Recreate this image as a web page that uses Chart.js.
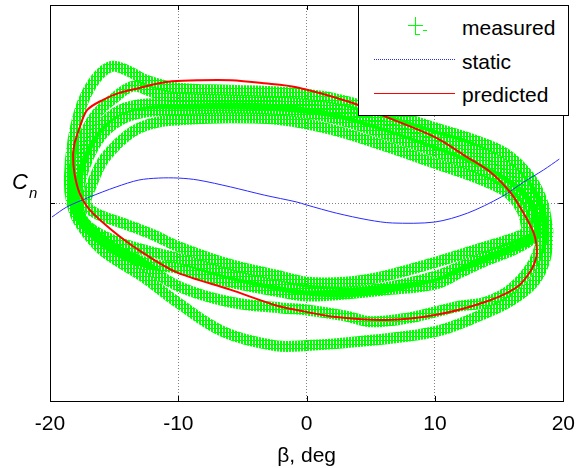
<!DOCTYPE html>
<html><head><meta charset="utf-8">
<script src="https://cdn.jsdelivr.net/npm/chart.js@4.4.1/dist/chart.umd.min.js"></script>
<style>
html,body{margin:0;padding:0;background:#fff;}
#wrap{position:relative;width:586px;height:468px;}
#leg{position:absolute;left:358px;top:5px;width:209px;height:109px;border:1px solid #000;background:#fff;font-family:'Liberation Sans',Arial,sans-serif;font-size:21px;color:#000;}
#leg .t{position:absolute;left:103px;line-height:24px;white-space:nowrap;}
#leg .k{position:absolute;}
</style>
</head><body><div id="wrap"><canvas id="c" width="586" height="468"></canvas><div id="leg"></div></div>
<script>
const xTicks = [-20, -10, 0, 10, 20];
const yTicks = [-1, 0, 1];
const xTitle = 'β, deg';
const seriesNames = ['measured', 'static', 'predicted'];

const staticBeta = [-19.85,-18.69,-16.92,-14.85,-13.08,-11.54,-10.0,-8.46,-5.92,-3.31,-0.77,0.0,2.31,4.85,6.69,10.0,12.54,15.15,16.92,18.46,19.69];
const staticCn   = [-0.071,-0.020,0.030,0.081,0.116,0.126,0.126,0.116,0.081,0.040,0.005,-0.010,-0.051,-0.086,-0.101,-0.096,-0.051,0.030,0.106,0.167,0.222];

const predBeta = [-18.1,-17.7,-17.1,-15.9,-14.6,-13.1,-11.5,-10.5,-8.5,-5.9,-3.3,-0.8,3.6,6.2,10.0,12.5,14.4,15.9,16.9,17.7,17.9,17.9,17.5,16.4,13.9,10.0,6.2,2.3,-0.8,-2.5,-5.9,-10.2,-13.1,-15.2,-16.9,-17.7,-18.1,-18.2,-18.1];
const predCn   = [0.30,0.38,0.47,0.52,0.556,0.58,0.605,0.615,0.62,0.62,0.605,0.585,0.505,0.435,0.333,0.232,0.152,0.051,-0.051,-0.152,-0.212,-0.273,-0.338,-0.424,-0.50,-0.566,-0.591,-0.576,-0.54,-0.515,-0.439,-0.348,-0.237,-0.136,-0.035,0.051,0.152,0.242,0.30];

const meas1Beta = [18.8,18.4,17.4,15.5,13.0,10.0,6.0,2.0,-2.0,-6.0,-10.0,-12.5,-14.0,-15.2,-16.4,-17.5,-18.2,-18.5,-18.3,-17.7,-15.9,-12.8,-10.0,-6.5,-2.5,0.0,4.0,10.0,13.8,16.0,17.7,18.6,18.8];
const meas1Cn   = [-0.14,0.00,0.13,0.25,0.32,0.38,0.46,0.53,0.56,0.57,0.58,0.62,0.67,0.69,0.63,0.50,0.32,0.12,0.00,-0.10,-0.24,-0.37,-0.505,-0.65,-0.72,-0.72,-0.70,-0.65,-0.56,-0.49,-0.40,-0.28,-0.14];

const meas2Beta = [18.5,18.1,17.0,15.0,12.5,10.0,6.0,2.0,-2.0,-6.0,-10.0,-12.0,-13.5,-15.0,-16.5,-17.6,-18.2,-18.1,-17.3,-15.5,-13.0,-10.0,-6.0,-2.0,0.0,3.0,5.0,8.0,10.0,12.0,14.0,16.0,17.6,18.5];
const meas2Cn   = [-0.16,-0.02,0.10,0.21,0.29,0.34,0.42,0.48,0.51,0.52,0.53,0.56,0.59,0.53,0.44,0.30,0.14,0.00,-0.10,-0.20,-0.30,-0.42,-0.50,-0.53,-0.54,-0.57,-0.60,-0.58,-0.55,-0.52,-0.50,-0.43,-0.31,-0.16];

const meas3Beta = [17.9,17.5,16.4,14.5,12.0,10.0,6.0,2.0,-2.0,-6.0,-10.0,-12.5,-14.5,-16.0,-17.2,-17.8,-17.7,-16.8,-14.5,-12.0,-10.0,-6.0,-2.0,0.0,3.0,6.0,10.0,12.0,14.0,16.0,17.4,17.9];
const meas3Cn   = [-0.15,-0.03,0.06,0.14,0.21,0.26,0.35,0.43,0.47,0.48,0.47,0.46,0.42,0.34,0.20,0.05,-0.05,-0.14,-0.25,-0.31,-0.33,-0.40,-0.45,-0.47,-0.46,-0.44,-0.41,-0.35,-0.29,-0.24,-0.19,-0.15];

const meas4Beta = [17.2,16.8,15.7,13.5,10.0,6.0,2.0,-2.0,-6.0,-10.0,-11.5,-13.0,-14.2,-15.3,-16.0,-16.7,-17.2,-16.5,-14.0,-12.0,-10.0,-6.0,-2.0,0.0,3.0,6.0,10.0,12.0,14.0,15.5,16.8,17.2];
const meas4Cn   = [-0.14,-0.04,0.05,0.12,0.20,0.29,0.37,0.42,0.43,0.42,0.41,0.38,0.33,0.26,0.20,0.10,0.00,-0.05,-0.11,-0.16,-0.22,-0.31,-0.37,-0.40,-0.40,-0.37,-0.30,-0.26,-0.22,-0.19,-0.16,-0.14];

const meas5Beta = [18.2,17.8,16.7,14.5,12.0,10.0,6.0,2.0,-2.0,-6.0,-10.0,-12.5,-14.5,-16.2,-17.4,-18.0,-17.9,-17.0,-15.0,-12.5,-10.0,-6.0,-2.0,0.0,3.0,6.0,10.0,12.0,14.0,16.0,17.5,18.2];
const meas5Cn   = [-0.15,-0.02,0.08,0.18,0.25,0.30,0.39,0.46,0.49,0.50,0.50,0.50,0.47,0.38,0.24,0.08,-0.04,-0.12,-0.19,-0.24,-0.28,-0.36,-0.42,-0.44,-0.45,-0.43,-0.37,-0.32,-0.27,-0.22,-0.18,-0.15];

const measuredBeta = [meas1Beta, meas2Beta, meas3Beta, meas4Beta, meas5Beta];
const measuredCn = [meas1Cn, meas2Cn, meas3Cn, meas4Cn, meas5Cn];

const FONT = "'Liberation Sans', Arial, sans-serif";
const GREEN = '#00ff00';
const BLUE = '#2a2aff';
const RED = '#ff0000';
const canvas = document.getElementById('c');
const ctx = canvas.getContext('2d');

function toXY(b, c) { return b.map((v, i) => ({ x: v, y: c[i] })); }
function makePattern(k) {
  const p = document.createElement('canvas');
  p.width = 3; p.height = 4;
  const g = p.getContext('2d');
  g.fillStyle = GREEN;
  for (let i = 0; i < 3; i++) { if (i !== (k % 3)) g.fillRect(i, 0, 1, 4); }
  g.fillRect(0, k % 4, 3, 1);
  return ctx.createPattern(p, 'repeat');
}

const datasets = [
  { label: seriesNames[2], data: toXY(predBeta, predCn), showLine: true, borderColor: RED, borderWidth: 2, pointRadius: 0, tension: 0.3, fill: false },
  { label: seriesNames[1], data: toXY(staticBeta, staticCn), showLine: true, borderColor: BLUE, borderWidth: 1, pointRadius: 0, tension: 0.3, fill: false }
];
measuredBeta.forEach((b, k) => {
  datasets.push({ label: seriesNames[0], data: toXY(b, measuredCn[k]), showLine: true, borderColor: makePattern(k), borderWidth: 11, borderJoinStyle: 'round', borderCapStyle: 'round', pointRadius: 0, tension: 0.35, fill: false });
});

// HTML legend (inside the plot area, top right)
(function buildLegend() {
  const leg = document.getElementById('leg');
  const add = (cls, css, txt) => { const d = document.createElement('div'); d.className = cls; d.style.cssText = css; if (txt) d.textContent = txt; leg.appendChild(d); };
  add('k', 'left:56px;top:11px;width:1px;height:18px;background:' + GREEN);
  add('k', 'left:49px;top:19px;width:15px;height:1px;background:' + GREEN);
  add('k', 'left:56px;top:28px;width:5px;height:1px;background:' + GREEN);
  add('k', 'left:64px;top:24px;width:4px;height:1px;background:' + GREEN);
  add('k', 'left:15px;top:53px;width:81px;height:0;border-top:1px dotted ' + BLUE);
  add('k', 'left:15px;top:87px;width:81px;height:1px;background:' + RED);
  add('t', 'top:10px', seriesNames[0]);
  add('t', 'top:44px', seriesNames[1]);
  add('t', 'top:77px', seriesNames[2]);
})();

const framePlugin = {
  id: 'frame',
  afterDatasetsDraw(chart) {
    const c = chart.ctx, a = chart.chartArea, xs = chart.scales.x, ys = chart.scales.y;
    c.save();
    c.setLineDash([]);
    c.strokeStyle = '#000'; c.lineWidth = 1;
    c.beginPath();
    xTicks.forEach(v => { const px = Math.round(xs.getPixelForValue(v)) + 0.5; c.moveTo(px, a.bottom); c.lineTo(px, a.bottom - 5); c.moveTo(px, a.top); c.lineTo(px, a.top + 5); });
    yTicks.forEach(v => { const py = Math.round(ys.getPixelForValue(v)) + 0.5; c.moveTo(a.left, py); c.lineTo(a.left + 5, py); c.moveTo(a.right, py); c.lineTo(a.right - 5, py); });
    c.stroke();
    c.strokeRect(Math.round(a.left) + 0.5, Math.round(a.top) + 0.5, Math.round(a.right - a.left), Math.round(a.bottom - a.top));
    c.fillStyle = '#000'; c.textBaseline = 'alphabetic'; c.textAlign = 'left';
    c.font = 'italic 22px ' + FONT; c.fillText('C', 12, 189);
    c.font = 'italic 15px ' + FONT; c.fillText('n', 29, 198);
    c.restore();
  }
};

new Chart(ctx, {
  type: 'scatter',
  data: { datasets },
  options: {
    responsive: false, animation: false, devicePixelRatio: 1,
    layout: { padding: { left: 50, right: 16, top: 5, bottom: 0 } },
    plugins: { legend: { display: false }, tooltip: { enabled: false } },
    scales: {
      x: {
        type: 'linear', min: -20, max: 20,
        afterBuildTicks: s => { s.ticks = xTicks.map(v => ({ value: v })); },
        afterFit: s => { s.height = 67; },
        grid: { color: '#808080', lineWidth: 1, drawTicks: false },
        border: { display: false, dash: [1, 2] },
        ticks: { color: '#000', font: { family: FONT, size: 21 }, padding: 11, maxRotation: 0, autoSkip: false },
        title: { display: true, text: xTitle, color: '#000', font: { family: FONT, size: 21 }, padding: { top: 0, bottom: -1 } }
      },
      y: {
        type: 'linear', min: -1, max: 1,
        afterBuildTicks: s => { s.ticks = yTicks.map(v => ({ value: v })); },
        afterFit: s => { s.width = 0; },
        grid: { color: '#808080', lineWidth: 1, drawTicks: false },
        border: { display: false, dash: [1, 2] },
        ticks: { display: false }
      }
    }
  },
  plugins: [framePlugin]
});
</script></body></html>
